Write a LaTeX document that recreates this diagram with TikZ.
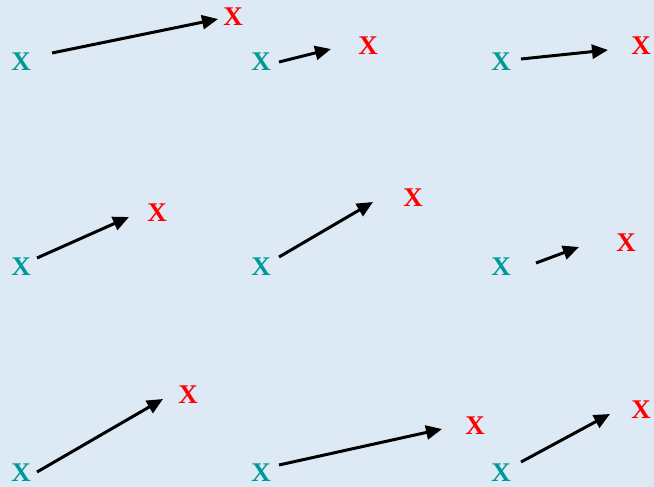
\documentclass[tikz,border=0pt]{standalone}
\usepackage{fontspec}
\setmainfont{Liberation Serif}
\usetikzlibrary{arrows.meta}
\definecolor{bgblue}{RGB}{221,234,246}
\definecolor{tealx}{RGB}{0,153,153}
\definecolor{redx}{RGB}{255,0,0}
\tikzset{
  xstart/.style={inner sep=0pt, text=tealx, font=\fontsize{27}{27}\selectfont\bfseries},
  xend/.style={inner sep=0pt, text=redx, font=\fontsize{27}{27}\selectfont\bfseries},
  mover/.style={draw=black, line width=3pt, -{Triangle[length=16pt,width=14pt]}}
}
\begin{document}
\begin{tikzpicture}[x=1pt,y=-1pt]
\fill[bgblue] (0,0) rectangle (654,487);
\useasboundingbox (0,0) rectangle (654,487);
% row 1
\node[xstart] (t1) at (21,62) {X};
\node[xend]   (r1) at (233,17) {X};
\node[xstart] (t2) at (261,62) {X};
\node[xend]   (r2) at (368,46) {X};
\node[xstart] (t3) at (501,62) {X};
\node[xend]   (r3) at (641,46) {X};
% row 2
\node[xstart] (t4) at (21,267) {X};
\node[xend]   (r4) at (157,213) {X};
\node[xstart] (t5) at (261,267) {X};
\node[xend]   (r5) at (413,198) {X};
\node[xstart] (t6) at (501,267) {X};
\node[xend]   (r6) at (626,243) {X};
% row 3
\node[xstart] (t7) at (21,473) {X};
\node[xend]   (r7) at (188,395) {X};
\node[xstart] (t8) at (261,473) {X};
\node[xend]   (r8) at (475,426) {X};
\node[xstart] (t9) at (501,473) {X};
\node[xend]   (r9) at (641,410) {X};
% arrow end points
\coordinate (a1) at (52,53);   \coordinate (b1) at (218,19);
\coordinate (a2) at (279,62);  \coordinate (b2) at (331,49);
\coordinate (a3) at (521,59);  \coordinate (b3) at (608,50);
\coordinate (a4) at (37,258);  \coordinate (b4) at (129,217);
\coordinate (a5) at (279,257); \coordinate (b5) at (373,202);
\coordinate (a6) at (536,263); \coordinate (b6) at (579,247);
\coordinate (a7) at (37,472);  \coordinate (b7) at (163,399);
\coordinate (a8) at (279,465); \coordinate (b8) at (442,429);
\coordinate (a9) at (521,462); \coordinate (b9) at (610,414);
\foreach \i in {1,...,9} { \draw[mover] (a\i) -- (b\i); }
\end{tikzpicture}
\end{document}
